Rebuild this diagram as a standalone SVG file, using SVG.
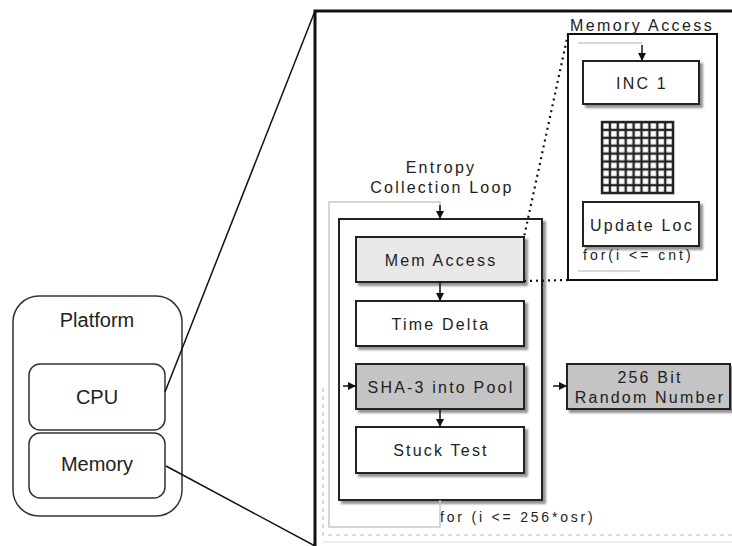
<svg xmlns="http://www.w3.org/2000/svg" width="732" height="546" viewBox="0 0 732 546">
<defs>
<filter id="sh" x="-10%" y="-10%" width="130%" height="140%">
<feDropShadow dx="3" dy="3" stdDeviation="1.2" flood-color="#777" flood-opacity="0.8"/>
</filter>
<marker id="ah" viewBox="0 0 10 10" refX="10" refY="5" markerWidth="9" markerHeight="8" orient="auto" markerUnits="userSpaceOnUse">
<path d="M0,0 L10,5 L0,10 z" fill="#111"/>
</marker>
<pattern id="grid" x="602" y="122" width="7.9" height="7.9" patternUnits="userSpaceOnUse">
<rect x="0" y="0" width="7.9" height="7.9" fill="#fff" stroke="#222" stroke-width="2.4"/>
</pattern>
<style>
text{font-family:"Liberation Sans",Arial,sans-serif;fill:#222;}
.lbl{font-size:16px;letter-spacing:2.2px;text-anchor:middle;}
.plat{font-size:20px;text-anchor:middle;}
.small{font-size:14px;letter-spacing:2.8px;}
.box{stroke:#222;stroke-width:2;filter:url(#sh);}
.pl{fill:#fff;stroke:#333;stroke-width:1.5;}
.conn{fill:none;stroke:#111;stroke-width:1.5;}
.loop{fill:none;stroke:#c8c8c8;stroke-width:1.5;}
.dot{fill:none;stroke:#111;stroke-width:2.2;stroke-dasharray:2,4;}
</style>
</defs>

<g id="platform">
<rect class="pl" x="13" y="296" width="169" height="220" rx="26"/>
<text class="plat" x="97" y="327">Platform</text>
</g>
<g id="cpu">
<rect class="pl" x="29" y="364" width="136" height="66" rx="11"/>
<text class="plat" x="97" y="404">CPU</text>
</g>
<g id="memory">
<rect class="pl" x="29" y="433" width="136" height="65" rx="11"/>
<text class="plat" x="97" y="471">Memory</text>
</g>

<g id="frame">
<path d="M315,546 V11 H732" fill="none" stroke="#111" stroke-width="3"/>
<path d="M323,388 V535 H732" fill="none" stroke="#bbb" stroke-width="1.2" stroke-dasharray="4,4"/>
<line x1="323" y1="542" x2="732" y2="542" stroke="#ddd" stroke-width="1"/>
</g>

<g id="entropy-loop">
<text class="lbl" x="441" y="173">Entropy</text>
<text class="lbl" x="442" y="193">Collection Loop</text>
<rect class="box" x="339" y="219" width="203" height="281" fill="#fff"/>
<text class="small" x="440" y="522">for (i &lt;= 256*osr)</text>
</g>

<g id="mem-access">
<rect class="box" x="356" y="237" width="168" height="45" fill="#e8e8e8"/>
<text class="lbl" x="441" y="266">Mem Access</text>
</g>
<g id="time-delta">
<rect class="box" x="356" y="301" width="168" height="45" fill="#fff"/>
<text class="lbl" x="441" y="330">Time Delta</text>
</g>
<g id="sha3">
<rect class="box" x="356" y="364" width="168" height="45" fill="#c4c4c4"/>
<text class="lbl" x="441" y="393">SHA-3 into Pool</text>
</g>
<g id="stuck-test">
<rect class="box" x="356" y="427" width="168" height="46" fill="#fff"/>
<text class="lbl" x="441" y="456">Stuck Test</text>
</g>
<g id="random-number">
<rect class="box" x="567" y="364" width="163" height="45" fill="#c4c4c4"/>
<text class="lbl" x="650" y="383">256 Bit</text>
<text class="lbl" x="650" y="403">Random Number</text>
</g>

<g id="memory-access">
<rect x="568" y="34" width="149" height="246" fill="#fff" stroke="#111" stroke-width="2"/>
<text class="lbl" x="642" y="31" style="letter-spacing:2.4px">Memory Access</text>
</g>
<g id="inc1">
<rect class="box" x="583" y="61" width="116" height="43" fill="#fff"/>
<text class="lbl" x="642" y="89">INC 1</text>
</g>
<g id="mem-grid">
<rect x="602" y="122" width="71.1" height="71.1" fill="url(#grid)" stroke="#222" stroke-width="2.4"/>
</g>
<g id="update-loc">
<rect class="box" x="583" y="202" width="116" height="44" fill="#fff"/>
<text class="lbl" x="642" y="231">Update Loc</text>
<text class="small" x="583" y="260" style="letter-spacing:3px">for(i &lt;= cnt)</text>
</g>

<g id="connectors">
<line class="conn" x1="165" y1="392" x2="315" y2="11"/>
<line class="conn" x1="166" y1="466" x2="315" y2="546"/>
<path class="dot" d="M568,34 L524,237"/>
<path class="dot" d="M524,281 L568,280"/>
<path class="loop" d="M440,500 V527 H329 V202 H440 V212"/>
<line class="conn" x1="440" y1="205" x2="440" y2="219" marker-end="url(#ah)"/>
<line class="conn" x1="440" y1="282" x2="440" y2="301" marker-end="url(#ah)"/>
<line class="conn" x1="440" y1="409" x2="440" y2="427" marker-end="url(#ah)"/>
<line class="conn" x1="343" y1="386" x2="356" y2="386" marker-end="url(#ah)"/>
<line class="conn" x1="553" y1="386" x2="567" y2="386" marker-end="url(#ah)"/>
<path class="loop" d="M578,43 H642"/>
<line class="conn" x1="642" y1="45" x2="642" y2="61" marker-end="url(#ah)"/>
<path class="loop" d="M578,271 H640"/>
</g>
</svg>
